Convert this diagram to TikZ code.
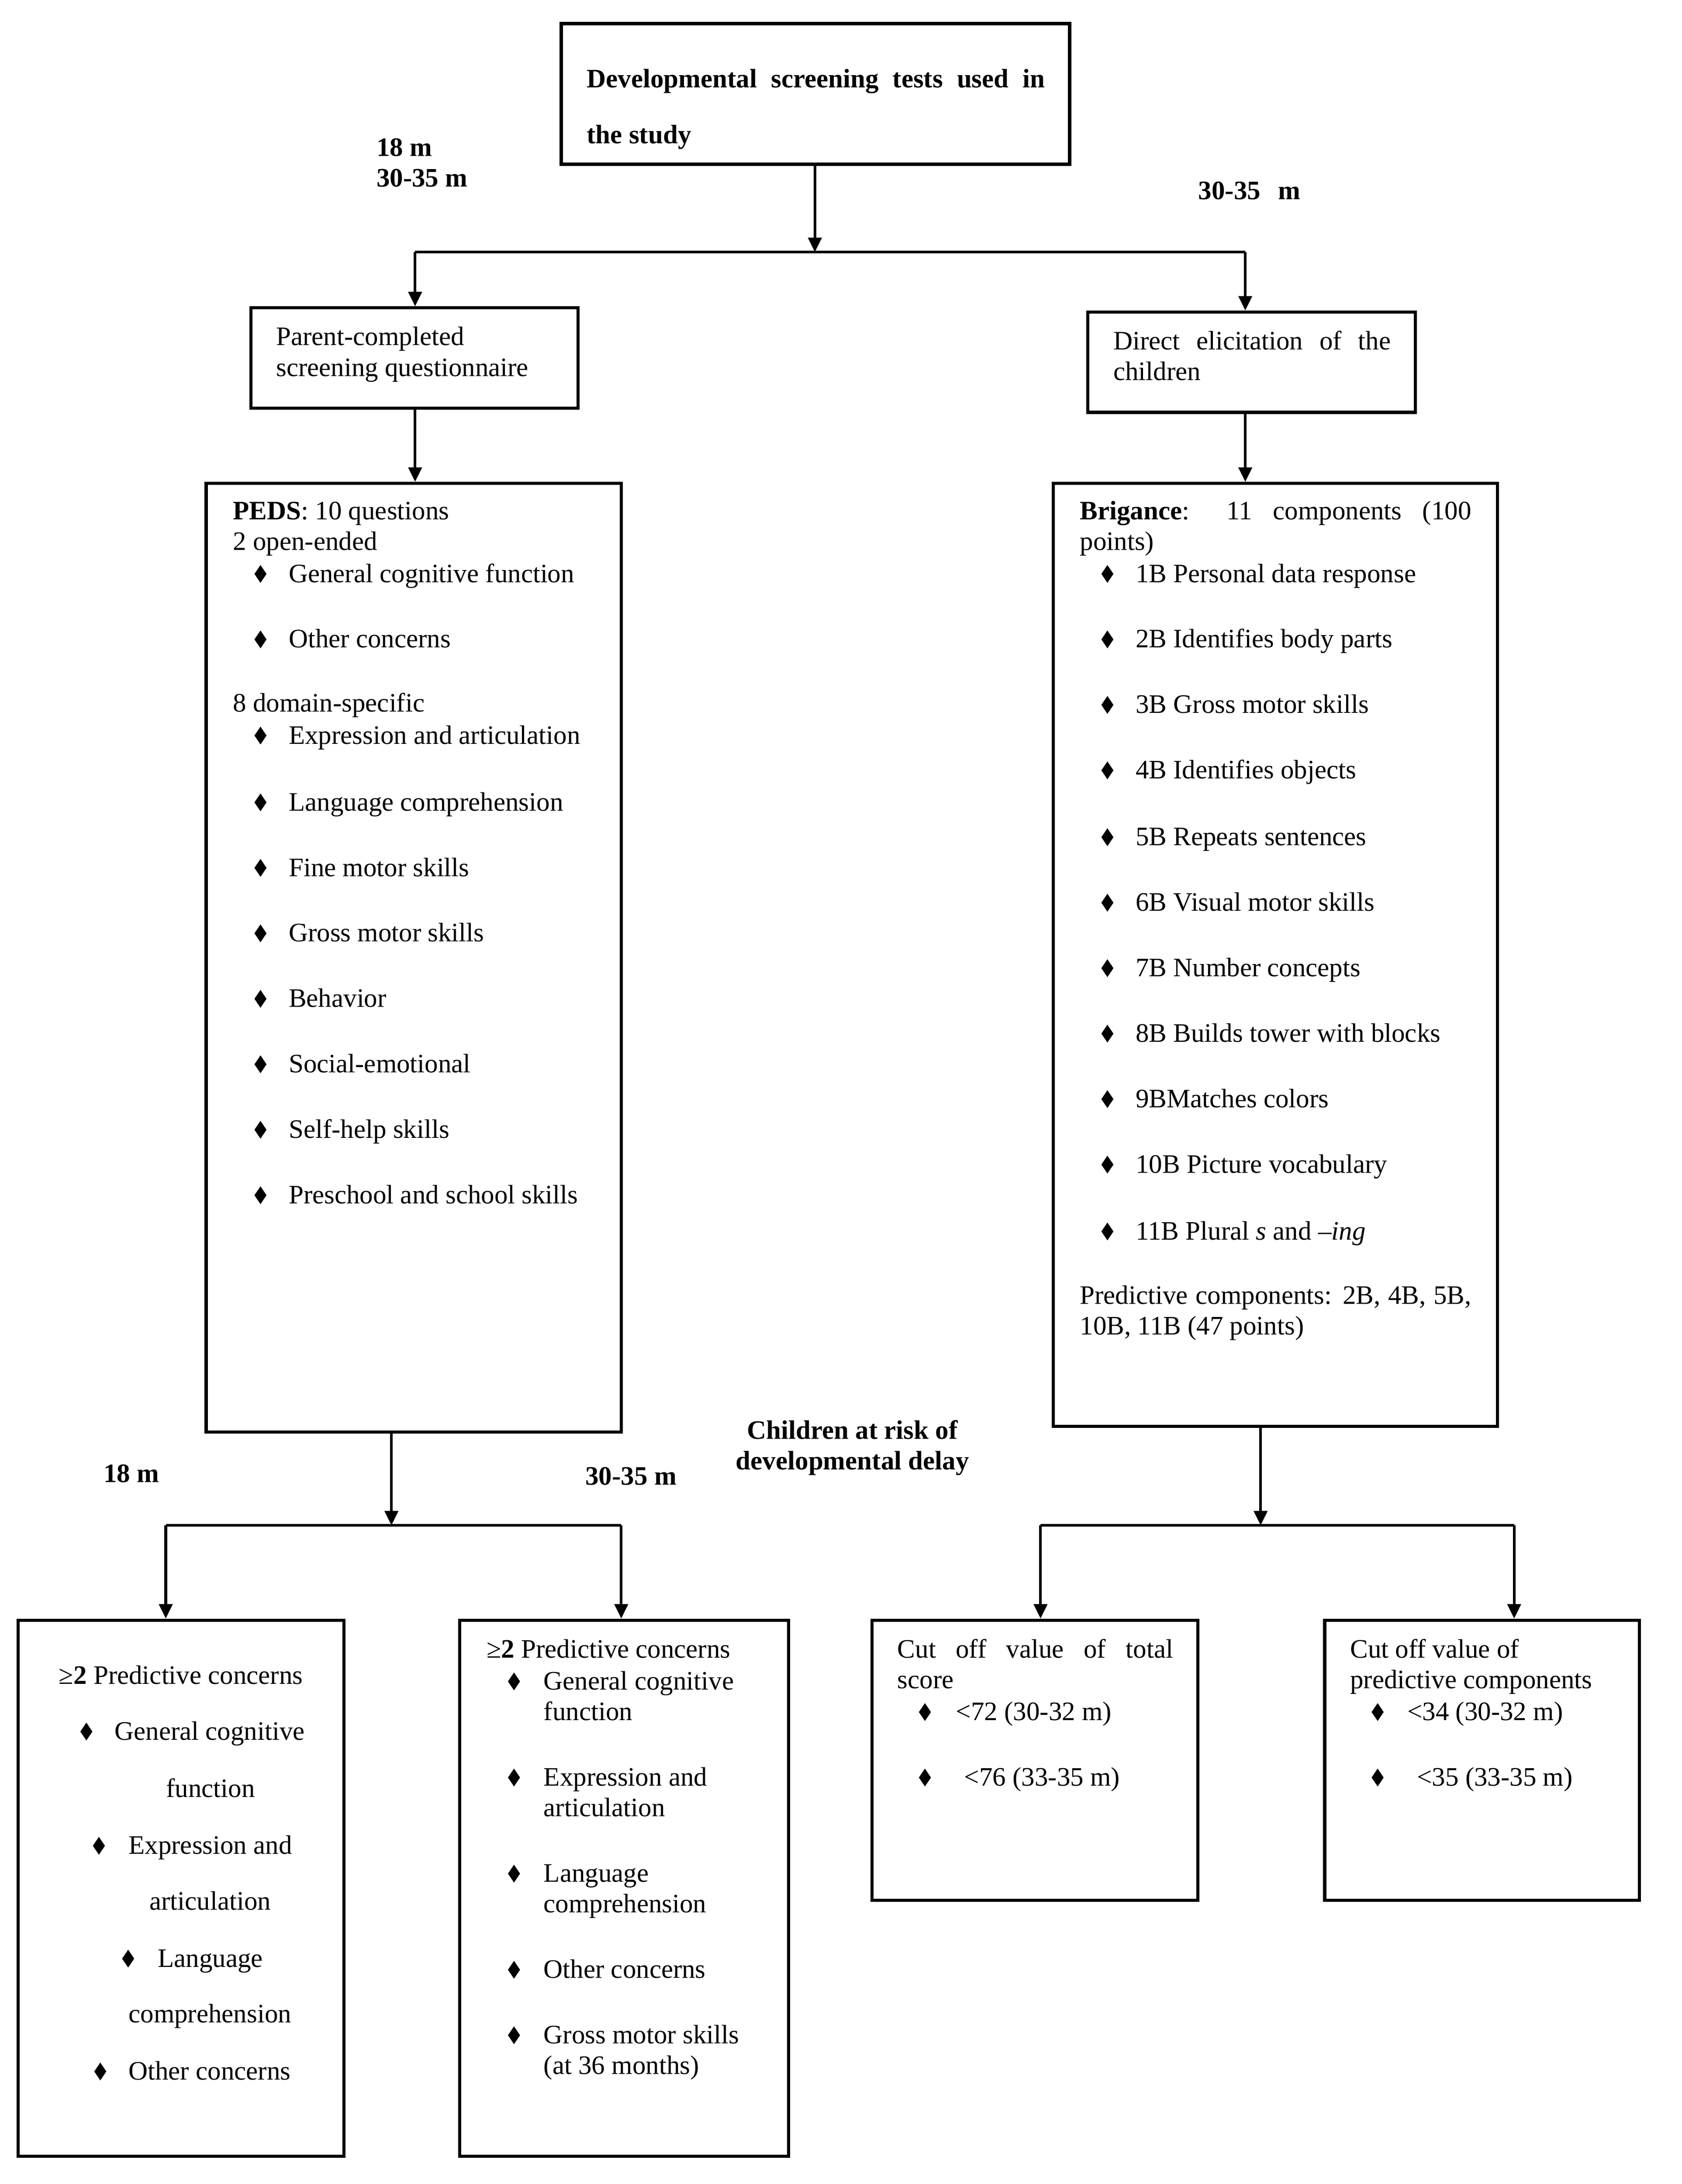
\documentclass[tikz,border=0pt]{standalone}
\usepackage{fontspec}
\setmainfont{Liberation Serif}
\usetikzlibrary{arrows.meta,fit,shapes.geometric}
\newcommand{\Tl}[4][txt]{\node[#1] (#2) at (#3) {#4};}
\newcommand{\Bi}[5]{\node[dia] (#1d) at (#2,#4) {}; \node[txt] (#1) at (#3,#4+6) {#5};}
\begin{document}
\begin{tikzpicture}[x=0.6275pt,y=-0.6275pt,
  box/.style={draw, line width=1.4pt, inner sep=0pt, rectangle},
  txt/.style={inner sep=0pt, anchor=base west, font=\fontsize{12pt}{13.8pt}\selectfont},
  btxt/.style={txt, font=\fontsize{12pt}{13.8pt}\selectfont\bfseries},
  ctxt/.style={btxt, anchor=base},
  dia/.style={diamond, fill=black, draw=none, inner sep=0pt, minimum width=5.6pt, minimum height=8.2pt},
  arr/.style={line width=1.2pt, -{Triangle[length=6.5pt,width=6pt]}},
  ln/.style={line width=1.2pt}]
\useasboundingbox (0,0) rectangle (1207.5,1567.8);

% ---------- boxes ----------
\node[box, line width=1.6pt, fit={(403,17) (768,118)}] (top) {};
\node[box, fit={(180,221) (415,293)}] (parent) {};
\node[box, fit={(781,224) (1016,296)}] (direct) {};
\node[box, fit={(148,347) (446,1028)}] (peds) {};
\node[box, fit={(756,347) (1075,1024)}] (brig) {};
\node[box, fit={(13,1163) (247,1548)}] (boxA) {};
\node[box, fit={(330,1163) (566,1548)}] (boxB) {};
\node[box, fit={(626,1163) (860,1364)}] (boxC) {};
\node[box, fit={(951,1163) (1177,1364)}] (boxD) {};

% ---------- junctions ----------
\coordinate (j1) at (585,181);
\coordinate (jL1) at (298,181);
\coordinate (jR1) at (894,181);
\coordinate (j2) at (281,1095);
\coordinate (jA) at (119,1095);
\coordinate (jB) at (446,1095);
\coordinate (j3) at (905,1095);
\coordinate (jC) at (747,1095);
\coordinate (jD) at (1087,1095);

% ---------- connectors ----------
\draw[arr] (j1 |- top.south) -- (j1);
\draw[ln] (jL1) -- (jR1);
\draw[arr] (jL1) -- (jL1 |- parent.north);
\draw[arr] (jR1) -- (jR1 |- direct.north);
\draw[arr] (jL1 |- parent.south) -- (jL1 |- peds.north);
\draw[arr] (jR1 |- direct.south) -- (jR1 |- brig.north);
\draw[arr] (j2 |- peds.south) -- (j2);
\draw[ln] (jA) -- (jB);
\draw[arr] (jA) -- (jA |- boxA.north);
\draw[arr] (jB) -- (jB |- boxB.north);
\draw[arr] (j3 |- brig.south) -- (j3);
\draw[ln] (jC) -- (jD);
\draw[arr] (jC) -- (jC |- boxC.north);
\draw[arr] (jD) -- (jD |- boxD.north);

% ---------- top ----------
\Tl[btxt]{top1}{421,63}{\makebox[206.4pt][s]{Developmental screening tests used in}}
\Tl[btxt]{top2}{421,103}{the study}

% ---------- labels ----------
\Tl[btxt]{lab18a}{270,112}{18 m}
\Tl[btxt]{lab30a}{270,134}{30-35 m}
\Tl[btxt]{lab30b}{860,143}{30-35\hspace{8pt}m}
\Tl[btxt]{lab18b}{74,1064}{18 m}
\Tl[btxt]{lab30c}{420,1066}{30-35 m}
\Tl[ctxt]{risk1}{612,1033}{Children at risk of}
\Tl[ctxt]{risk2}{612,1055}{developmental delay}

% ---------- parent / direct ----------
\Tl{par1}{198,248}{Parent-completed}
\Tl{par2}{198,270}{screening questionnaire}
\Tl{dir1}{799,251}{\makebox[124.9pt][s]{Direct elicitation of the}}
\Tl{dir2}{799,273}{children}

% ---------- PEDS ----------
\Tl{peds1}{167,373}{\textbf{PEDS}: 10 questions}
\Tl{peds2}{167,395}{2 open-ended}
\Bi{p1}{187}{207}{412}{General cognitive function}
\Bi{p2}{187}{207}{459}{Other concerns}
\Tl{peds3}{167,511}{8 domain-specific}
\Bi{p3}{187}{207}{528}{Expression and articulation}
\Bi{p4}{187}{207}{576}{Language comprehension}
\Bi{p5}{187}{207}{623}{Fine motor skills}
\Bi{p6}{187}{207}{670}{Gross motor skills}
\Bi{p7}{187}{207}{717}{Behavior}
\Bi{p8}{187}{207}{764}{Social-emotional}
\Bi{p9}{187}{207}{811}{Self-help skills}
\Bi{p10}{187}{207}{858}{Preschool and school skills}

% ---------- Brigance ----------
\Tl{br1}{775,373}{\makebox[176.3pt][s]{\textbf{Brigance}: 11 components (100}}
\Tl{br2}{775,395}{points)}
\Bi{b1}{795}{815}{412}{1B Personal data response}
\Bi{b2}{795}{815}{459}{2B Identifies body parts}
\Bi{b3}{795}{815}{506}{3B Gross motor skills}
\Bi{b4}{795}{815}{553}{4B Identifies objects}
\Bi{b5}{795}{815}{601}{5B Repeats sentences}
\Bi{b6}{795}{815}{648}{6B Visual motor skills}
\Bi{b7}{795}{815}{695}{7B Number concepts}
\Bi{b8}{795}{815}{742}{8B Builds tower with blocks}
\Bi{b9}{795}{815}{789}{9BMatches colors}
\Bi{b10}{795}{815}{836}{10B Picture vocabulary}
\Bi{b11}{795}{815}{884}{11B Plural \textit{s} and –\textit{ing}}
\Tl{br3}{775,936}{\makebox[176.3pt][s]{Predictive components: 2B, 4B, 5B,}}
\Tl{br4}{775,958}{10B, 11B (47 points)}

% ---------- box A ----------
\Tl{a0}{42,1209}{≥\textbf{2} Predictive concerns}
\Bi{a1}{62}{82}{1243}{General cognitive}
\Tl{a1b}{119,1290}{function}
\Bi{a2}{71}{92}{1325}{Expression and}
\Tl{a2b}{107,1371}{articulation}
\Bi{a3}{92}{113}{1406}{Language}
\Tl{a3b}{92,1452}{comprehension}
\Bi{a4}{72}{92}{1487}{Other concerns}

% ---------- box B ----------
\Tl{b0}{349,1190}{≥\textbf{2} Predictive concerns}
\Bi{c1}{369}{390}{1207}{General cognitive}
\Tl{c1b}{390,1235}{function}
\Bi{c2}{369}{390}{1276}{Expression and}
\Tl{c2b}{390,1304}{articulation}
\Bi{c3}{369}{390}{1345}{Language}
\Tl{c3b}{390,1373}{comprehension}
\Bi{c4}{369}{390}{1414}{Other concerns}
\Bi{c5}{369}{390}{1461}{Gross motor skills}
\Tl{c5b}{390,1489}{(at 36 months)}

% ---------- box C ----------
\Tl{cc1}{644,1190}{\makebox[124.2pt][s]{Cut off value of total}}
\Tl{cc2}{644,1212}{score}
\Bi{d1}{664}{686}{1229}{<72 (30-32 m)}
\Bi{d2}{664}{692}{1276}{<76 (33-35 m)}

% ---------- box D ----------
\Tl{dd1}{969,1190}{Cut off value of}
\Tl{dd2}{969,1212}{predictive components}
\Bi{e1}{989}{1010}{1229}{<34 (30-32 m)}
\Bi{e2}{989}{1017}{1276}{<35 (33-35 m)}
\end{tikzpicture}
\end{document}
